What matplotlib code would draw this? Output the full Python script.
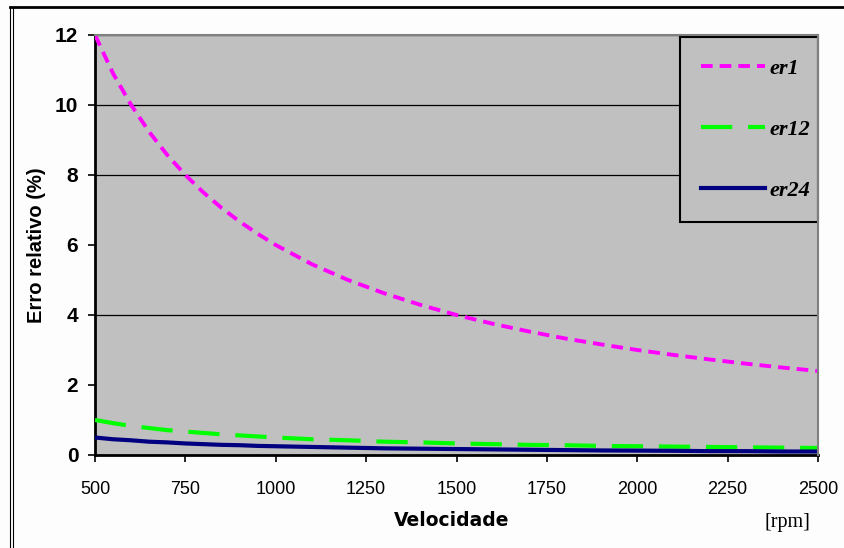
import matplotlib
matplotlib.use("Agg")
import matplotlib.pyplot as plt
from matplotlib.lines import Line2D

# Speed (rpm) and relative errors (%)
velocidade = [500, 550, 600, 650, 700, 750, 800, 850, 900, 950, 1000,
              1100, 1200, 1300, 1400, 1500, 1600, 1700, 1800, 1900, 2000,
              2100, 2200, 2300, 2400, 2500]
er1 = [12.0, 10.9, 10.0, 9.23, 8.57, 8.0, 7.5, 7.06, 6.67, 6.32, 6.0,
       5.45, 5.0, 4.62, 4.29, 4.0, 3.75, 3.53, 3.33, 3.16, 3.0,
       2.86, 2.73, 2.61, 2.5, 2.4]
er12 = [1.0, 0.91, 0.83, 0.77, 0.71, 0.67, 0.63, 0.59, 0.56, 0.53, 0.5,
        0.45, 0.42, 0.38, 0.36, 0.33, 0.31, 0.29, 0.28, 0.26, 0.25,
        0.24, 0.23, 0.22, 0.21, 0.2]
er24 = [0.5, 0.45, 0.42, 0.38, 0.36, 0.33, 0.31, 0.29, 0.28, 0.26, 0.25,
        0.23, 0.21, 0.19, 0.18, 0.17, 0.16, 0.15, 0.14, 0.13, 0.125,
        0.12, 0.11, 0.11, 0.10, 0.10]

x_ticks = [500, 750, 1000, 1250, 1500, 1750, 2000, 2250, 2500]
y_ticks = [0, 2, 4, 6, 8, 10, 12]
grid_levels = [4, 8, 10, 12]

fig = plt.figure(figsize=(8.44, 5.48), dpi=100)
fig.patch.set_facecolor("#fdfdfd")
ax = fig.add_axes([95 / 844, 1 - 455 / 548, 723 / 844, 420 / 548])
ax.set_facecolor("#c0c0c0")

for g in grid_levels:
    ax.axhline(g, color="black", lw=0.9, zorder=1)

ax.plot(velocidade, er1, color="#ff00ff", lw=2.8, dashes=(3.0, 1.8),
        label="er1", zorder=3)
ax.plot(velocidade, er12, color="#00ff00", lw=3.0, dashes=(7.5, 3.8),
        label="er12", zorder=3)
ax.plot(velocidade, er24, color="#000080", lw=3.0, label="er24", zorder=3)

ax.set_xlim(500, 2500)
ax.set_ylim(0, 12)
ax.set_xticks(x_ticks)
ax.set_yticks(y_ticks)
ax.set_xticklabels([str(v) for v in x_ticks], fontsize=13,
                   family="Liberation Sans")
ax.set_yticklabels([str(v) for v in y_ticks], fontsize=15,
                   family="Liberation Sans", fontweight="bold")
ax.tick_params(axis="y", direction="out", length=5, width=1.2, pad=7,
               colors="black")
ax.tick_params(axis="x", direction="out", length=5, width=1.2, pad=14,
               colors="black")

for side in ("left", "bottom"):
    ax.spines[side].set_color("black")
    ax.spines[side].set_linewidth(2.0)
for side in ("top", "right"):
    ax.spines[side].set_color("#808080")
    ax.spines[side].set_linewidth(1.5)
    ax.spines[side].set_zorder(6)

ax.set_ylabel("Erro relativo (%)", fontsize=14.5, family="Liberation Sans",
              fontweight="bold")
ax.yaxis.set_label_coords(-0.0816, 0.5)
ax.yaxis.label.set_va("center")
ax.set_xlabel("Velocidade", fontsize=13.5, family="DejaVu Sans",
              fontweight="bold")
ax.xaxis.set_label_coords(0.493, -0.157)
ax.xaxis.label.set_va("center")
fig.text(787 / 844, 1 - 522 / 548, "[rpm]", fontsize=14.5,
         family="Liberation Serif", ha="center", va="center")

leg = ax.legend(loc="upper left", bbox_to_anchor=(0.809, 0.557, 0.191, 0.438),
                mode="expand", fancybox=False, framealpha=1,
                facecolor="#c0c0c0", edgecolor="black", borderpad=0.95,
                labelspacing=1.83, handlelength=2.9, handletextpad=0.2,
                borderaxespad=0.0,
                prop={"family": "Liberation Serif", "weight": "bold",
                      "style": "italic", "size": 16})
leg.get_frame().set_linewidth(1.5)
leg.set_zorder(5)

# Outer frame of the figure
fig.add_artist(Line2D([10 / 844, 1.0], [1 - 7 / 548, 1 - 7 / 548],
                      color="black", lw=2.0, transform=fig.transFigure))
for xp in (10, 13):
    fig.add_artist(Line2D([xp / 844, xp / 844], [0, 1 - 7 / 548],
                          color="black", lw=0.8, transform=fig.transFigure))

fig.savefig("out.png", dpi=100, facecolor=fig.get_facecolor())
